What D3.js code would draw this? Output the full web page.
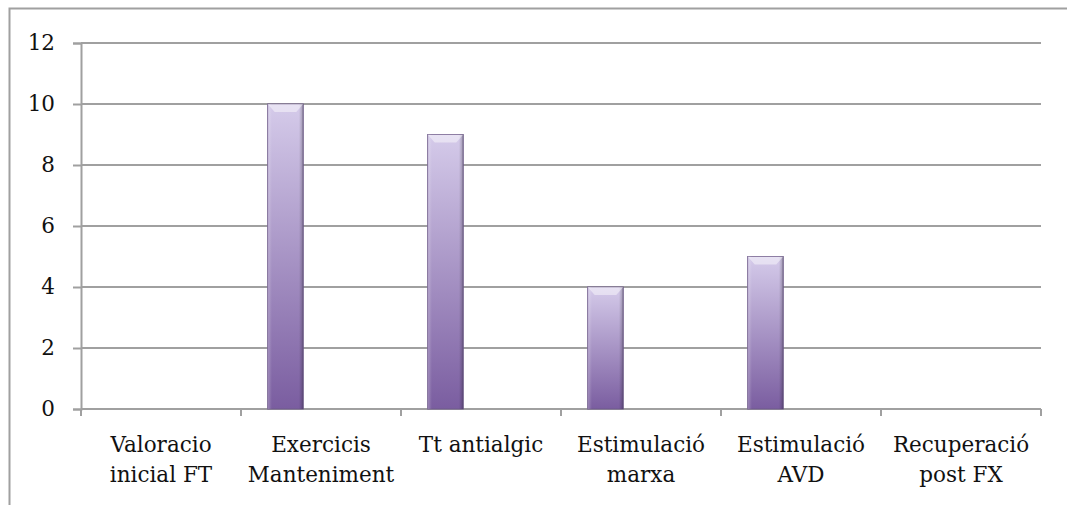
<!DOCTYPE html>
<html><head><meta charset="utf-8">
<script src="https://cdn.jsdelivr.net/npm/d3@7"></script>
<style>body{margin:0;background:#fff;}svg{display:block;}</style>
</head><body>
<svg id="c" width="1067" height="505"></svg>
<script>
const categories = [["Valoracio","inicial FT"],["Exercicis","Manteniment"],["Tt antialgic"],["Estimulació","marxa"],["Estimulació","AVD"],["Recuperació","post FX"]];
const values = [0, 10, 9, 4, 5, 0];
const seriesCount = 3; // clustered layout, only first series visible
const yTicks = [0, 2, 4, 6, 8, 10, 12];

const svg = d3.select("#c");
const L = 81, R = 1041, T = 43, B = 409;
const font = "DejaVu Serif";
const fs = "21.5px";

svg.append("rect").attr("x", 9.5).attr("y", 8.5).attr("width", 1100).attr("height", 600)
  .attr("fill", "none").attr("stroke", "#a0a0a0").attr("stroke-width", 2);

const x = d3.scaleBand().domain(d3.range(categories.length)).range([L, R]).padding(0);
const y = d3.scaleLinear().domain([0, 12]).range([B, T]);

const defs = svg.append("defs");
const g1 = defs.append("linearGradient").attr("id", "bg").attr("x1", 0).attr("y1", 0).attr("x2", 0).attr("y2", 1);
g1.append("stop").attr("offset", "0%").attr("stop-color", "#d5cbea");
g1.append("stop").attr("offset", "100%").attr("stop-color", "#7a5da0");
const g2 = defs.append("linearGradient").attr("id", "sh").attr("x1", 0).attr("y1", 0).attr("x2", 1).attr("y2", 0);
g2.append("stop").attr("offset", "0%").attr("stop-color", "#fff").attr("stop-opacity", 0.25);
g2.append("stop").attr("offset", "12%").attr("stop-color", "#fff").attr("stop-opacity", 0);
g2.append("stop").attr("offset", "88%").attr("stop-color", "#000").attr("stop-opacity", 0);
g2.append("stop").attr("offset", "100%").attr("stop-color", "#000").attr("stop-opacity", 0.25);

// gridlines
svg.append("g").selectAll("line").data(yTicks.filter(d => d > 0)).join("line")
  .attr("x1", L).attr("x2", R).attr("y1", d => y(d)).attr("y2", d => y(d))
  .attr("stroke", "#a0a0a0").attr("stroke-width", 2);

// y axis
const ya = svg.append("g").attr("transform", `translate(${L},0)`)
  .call(d3.axisLeft(y).tickValues(yTicks).tickSize(8).tickPadding(18));
ya.select(".domain").attr("stroke", "#a0a0a0").attr("stroke-width", 2);
ya.selectAll(".tick line").attr("stroke", "#a0a0a0").attr("stroke-width", 2);
ya.selectAll("text").style("font-family", font).style("font-size", fs).attr("fill", "#111");

// x axis
const xa = svg.append("g").attr("transform", `translate(0,${B})`);
xa.append("line").attr("x1", L).attr("x2", R).attr("y1", 0).attr("y2", 0).attr("stroke", "#a0a0a0").attr("stroke-width", 2);
xa.selectAll(".tk").data(d3.range(categories.length + 1)).join("line")
  .attr("x1", i => L + i * x.bandwidth()).attr("x2", i => L + i * x.bandwidth())
  .attr("y1", 0).attr("y2", 7).attr("stroke", "#a0a0a0").attr("stroke-width", 2);

const bw = x.bandwidth() / (seriesCount + 1.5);
const off = bw * 0.75;

const bars = svg.append("g").selectAll("g").data(values.map((v, i) => ({v, i})).filter(d => d.v > 0)).join("g");
bars.append("rect").attr("x", d => x(d.i) + off).attr("y", d => y(d.v)).attr("width", bw).attr("height", d => B - y(d.v))
  .attr("fill", "url(#bg)").attr("stroke", "#6e5a8a").attr("stroke-width", 1);
bars.append("rect").attr("x", d => x(d.i) + off).attr("y", d => y(d.v)).attr("width", bw).attr("height", d => B - y(d.v))
  .attr("fill", "url(#sh)");
bars.append("path").attr("d", d => {
  const x0 = x(d.i) + off, y0 = y(d.v);
  return `M${x0},${y0}L${x0+bw},${y0}L${x0+bw-7},${y0+8}L${x0+7},${y0+8}Z`;
}).attr("fill", "#fff").attr("opacity", 0.45);

// category labels
const lab = svg.append("g").selectAll("text").data(categories).join("text")
  .attr("x", (d, i) => x(i) + x.bandwidth() / 2).attr("y", 452)
  .attr("text-anchor", "middle").style("font-family", font).style("font-size", fs).attr("fill", "#111");
lab.selectAll("tspan").data(d => d).join("tspan")
  .attr("x", function() { return this.parentNode.getAttribute("x"); })
  .attr("dy", (d, i) => i === 0 ? 0 : 30).text(d => d);
</script>
</body></html>
